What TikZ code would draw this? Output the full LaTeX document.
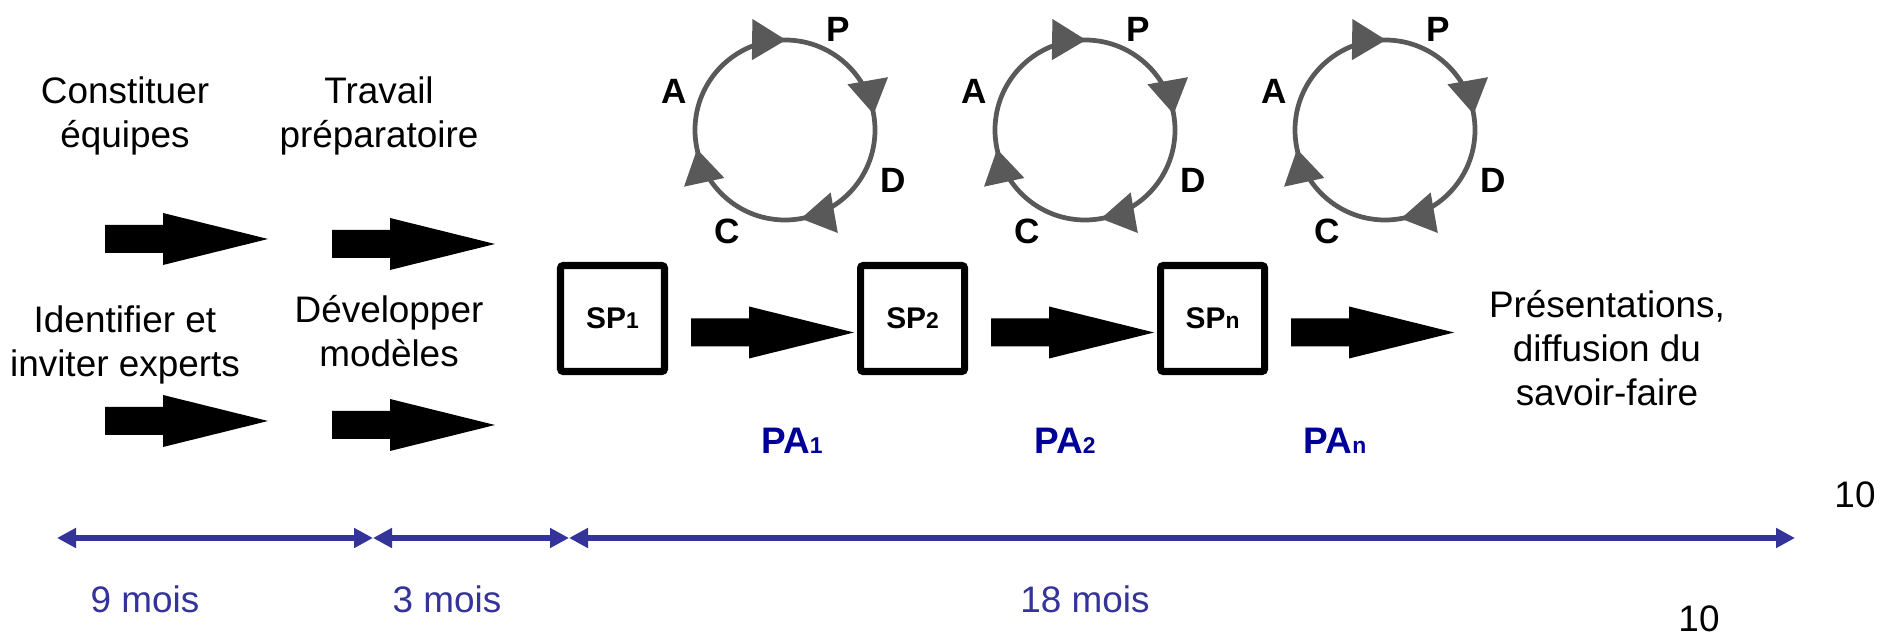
\documentclass[tikz,border=0pt]{standalone}
\usepackage{fontspec}
\setmainfont{Liberation Sans}
\usetikzlibrary{positioning,calc,arrows.meta,decorations.markings}

\definecolor{pablue}{HTML}{000099}
\definecolor{tlblue}{HTML}{333399}
\definecolor{ringgray}{HTML}{595959}

\newcommand{\smallidx}[1]{{\fontsize{13}{13}\selectfont #1}}

\tikzset{
	lbl/.style={align=center, font=\fontsize{21}{25}\selectfont},
	spbox/.style={draw, line width=4pt, rounded corners=1.5pt, minimum width=20.8mm, minimum height=21.2mm, font=\bfseries\fontsize{17}{20}\selectfont},
	palbl/.style={text=pablue, font=\bfseries\fontsize{21}{25}\selectfont},
	pdca/.style={font=\bfseries\fontsize{20}{24}\selectfont},
	ring/.style={color=ringgray, line width=2.7pt, postaction={decorate}, decoration={markings,
		mark=at position 0.222 with {\arrow{Triangle[length=6.8mm,width=8mm]}},
		mark=at position 0.466 with {\arrow{Triangle[length=6.8mm,width=8mm]}},
		mark=at position 0.752 with {\arrow{Triangle[length=6.8mm,width=8mm]}},
		mark=at position 0.972 with {\arrow{Triangle[length=6.8mm,width=8mm]}}}},
	tline/.style={draw=tlblue, line width=3.4pt, <->, >={Triangle[length=3.8mm,width=3.8mm]}},
	tlbl/.style={text=tlblue, font=\fontsize{21}{25}\selectfont},
	blockarr/.pic={\fill (0,-14) -- (58,-14) -- (58,-26) -- (163,0) -- (58,26) -- (58,14) -- (0,14) -- cycle;}
}

\begin{document}
\begin{tikzpicture}[x=0.2mm, y=0.2mm]
	\useasboundingbox (0,0) rectangle (1880,636);

	% preparation
	\node[lbl] (const) at (125,520) {Constituer\\équipes};
	\node[lbl] (trav) at (379,520) {Travail\\préparatoire};
	\node[lbl] (ident) at (125,291) {Identifier et\\inviter experts};
	\node[lbl] (devel) at (389,305) {Développer\\modèles};
	\pic (a1) at (105,397) {blockarr};
	\pic (a2) at (332,392) {blockarr};
	\pic (a3) at (105,215) {blockarr};
	\pic (a4) at (332,211) {blockarr};

	% sous-projets
	\node[spbox] (sp1) at (612.5,317.5) {SP\smallidx{1}};
	\node[spbox, right=37.8mm of sp1] (sp2) {SP\smallidx{2}};
	\node[spbox, right=37.8mm of sp2] (spn) {SP\smallidx{n}};
	\pic (b1) at ($(sp1.east)+(23,-14)$) {blockarr};
	\pic (b2) at ($(sp2.east)+(23,-14)$) {blockarr};
	\pic (b3) at ($(spn.east)+(23,-14)$) {blockarr};
	\node[lbl] (pres) at (1607,288) {Présentations,\\diffusion du\\savoir-faire};

	\node[palbl] (pa1) at (792,195) {PA\smallidx{1}};
	\node[palbl] (pa2) at (1065,195) {PA\smallidx{2}};
	\node[palbl] (pan) at (1335,195) {PA\smallidx{n}};

	% PDCA
	\foreach \cx [count=\i] in {785,1085,1385}{
		\coordinate (c\i) at (\cx,506);
		\draw[ring] (c\i) ++(0:90) arc[start angle=360, end angle=0, radius=90];
		\node[pdca] (p\i) at ($(c\i)+(53,101)$) {P};
		\node[pdca] (d\i) at ($(c\i)+(108,-50)$) {D};
		\node[pdca] (cc\i) at ($(c\i)+(-58,-101)$) {C};
		\node[pdca] (ac\i) at ($(c\i)+(-111,39)$) {A};
	}

	% calendrier
	\coordinate (t0) at (57,98);
	\coordinate (t1) at (373,98);
	\coordinate (t2) at (569,98);
	\coordinate (t3) at (1795,98);
	\draw[tline] (t0) -- (t1);
	\draw[tline] (t1) -- (t2);
	\draw[tline] (t2) -- (t3);
	\node[tlbl] (m9) at (145,37) {9 mois};
	\node[tlbl] (m3) at (447,37) {3 mois};
	\node[tlbl] (m18) at (1085,37) {18 mois};

	\node[lbl] (n1) at (1855,141) {10};
	\node[lbl, inner sep=0pt] (n2) at (1699,17) {10};
\end{tikzpicture}
\end{document}
